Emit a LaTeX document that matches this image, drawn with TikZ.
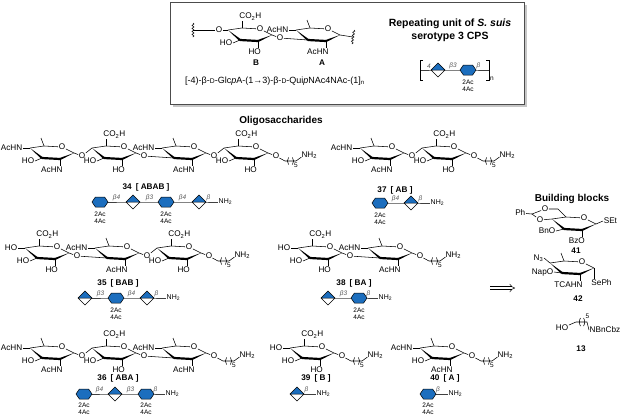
\documentclass[tikz,border=0pt]{standalone}
\usepackage{fontspec}
\setmainfont{Liberation Sans}
\usetikzlibrary{arrows.meta,decorations.pathmorphing}

\definecolor{sblue}{RGB}{28,110,190}
\newcommand\chemfs{\fontsize{8.2}{9}\selectfont}
\newcommand\scD{{\fontsize{6.8}{7}\selectfont D}}

% chair ring, C4 at the pic origin
\newcommand\ringbody{%
  \coordinate (-c4) at (0,0);
  \coordinate (-c5) at (14,-2);
  \node[atom] (-o5) at (32,-1) {O};
  \coordinate (-c1) at (44,5);
  \coordinate (-c2) at (30,11);
  \coordinate (-c3) at (12,10);
  \draw[bond] (-c4) -- (-c5) -- (-o5) -- (-c1);
  \fill (-c4) -- (11.3,10.85) -- (12.7,9.15) -- cycle;
  \draw[line width=2.2pt] (-c3) -- (-c2);
  \fill (-c1) -- (30.4,12) -- (29.6,10) -- cycle;
}
\newcommand\quisubs{%
  \draw[bond] (-c5) -- (11,-10);
  \draw[bond] (-c4) -- (-7,0) node[atom, anchor=east] {AcHN};
  \draw[bond] (-c2) -- (30,18) node[atom, anchor=north east, xshift=3.4pt] {AcHN};
}
\newcommand\glcsubs{%
  \draw[bond] (-c5) -- (14,-9) node[atom, anchor=south west, xshift=-3.4pt] {CO\textsubscript{2}H};
  \draw[bond] (-c3) -- (5,13) node[atom, anchor=east] {HO};
  \draw[bond] (-c2) -- (30,18) node[atom, anchor=north east, xshift=3.6pt] {HO};
}
\newcommand\glyco{%
  \node[atom] (-og) at (52,8) {O};
  \draw[bond] (-c1) -- (-og);
}

\tikzset{
  bond/.style={line width=0.55pt},
  atom/.style={inner sep=0.5pt, font=\chemfs},
  cmpd/.style={inner sep=0.5pt, font=\bfseries\fontsize{8.2}{9}\selectfont},
  ttl/.style={inner sep=0.5pt, font=\bfseries\fontsize{10}{12}\selectfont},
  lnk/.style={above=0.6pt, inner sep=0.3pt, text=black!65, font=\fontsize{6.5}{7}\selectfont\itshape},
  ac/.style={inner sep=0.3pt, font=\fontsize{6.5}{7}\selectfont},
  nh/.style={inner sep=0.5pt, font=\fontsize{7}{8}\selectfont},
  sline/.style={draw=black!75, line width=0.5pt},
  chair/.pic={\ringbody},
  quiring/.pic={\ringbody\quisubs\glyco},
  quibox/.pic={\ringbody\quisubs},
  glcring/.pic={\ringbody\glcsubs\glyco},
  spacer/.pic={
    \draw[bond] (3.4,2) -- (9,5) -- (20,5) -- (25.5,1);
    \draw[bond] (12.6,1.5) .. controls (11,3.5) and (11,6.5) .. (12.6,8.5);
    \draw[bond] (16.4,1.5) .. controls (18,3.5) and (18,6.5) .. (16.4,8.5);
    \node[ac, anchor=north west] at (17.5,7) {5};
    \node[atom, anchor=west] at (24.8,-1) {NH\textsubscript{2}};
  },
  hexa/.pic={\filldraw[fill=sblue, draw=black, line width=0.5pt]
    (-8,0) -- (-4.6,-5) -- (4.6,-5) -- (8,0) -- (4.6,5) -- (-4.6,5) -- cycle;},
  dia/.pic={\fill[white] (-7,0) -- (0,-7) -- (7,0) -- (0,7) -- cycle;
    \fill[sblue] (-7,0) -- (0,-7) -- (7,0) -- cycle;
    \draw[line width=0.5pt] (-7,0) -- (0,-7) -- (7,0) -- (0,7) -- cycle (-7,0) -- (7,0);},
}

\begin{document}
\begin{tikzpicture}[x=1pt, y=-1pt]
\useasboundingbox (0,0) rectangle (626,416);

% repeating unit box
\fill[gray!45] (172.5,4.5) rectangle (526.5,106.5);
\filldraw[fill=white, draw=gray!60!black, line width=0.8pt] (170,2) rectangle (524.5,104.5);
\pic (bx) at (228,30) {glcring};
\pic (ax) at (296,30) {quibox};
\node[atom] (ol) at (219,30) {O};
\coordinate (wl) at (193,30);
\coordinate (wr) at (353,37);
\draw[bond] (wl) -- (ol) -- (bx-c4);
\draw[bond] (bx-og) -- (ax-c3);
\draw[bond] (ax-c1) -- (wr);
\draw[bond, decorate, decoration={snake, amplitude=1pt, segment length=3pt}] (193,23) -- (193,37);
\draw[bond, decorate, decoration={snake, amplitude=1pt, segment length=3pt}] (354,30) -- (352,44);
\node[cmpd] at (256,63) {B};
\node[cmpd] at (322,63) {A};
\node[inner sep=0.5pt, font=\fontsize{9}{10}\selectfont] at (275,81)
  {[-4)-β-\scD-Glc\textit{p}A-(1→3)-β-\scD-Qui\textit{p}NAc4NAc-(1]\textsubscript{n}};
\node[inner sep=0.5pt, font=\bfseries\fontsize{10.5}{13}\selectfont, align=center] at (450,30)
  {Repeating unit of \textit{S. suis}\\serotype 3 CPS};
\coordinate (tk1) at (420,70);
\coordinate (ta) at (438,70);
\coordinate (tb) at (468,70);
\coordinate (tk2) at (489,70);
\draw[sline] (tk1) -- node[lnk]{4} (ta) -- node[lnk]{β3} (tb) -- node[lnk]{β} (tk2);
\draw[line width=0.9pt] (423,60) -- (420,60) -- (420,80) -- (423,80);
\draw[line width=0.9pt] (486,60) -- (489,60) -- (489,80) -- (486,80);
\node[ac, anchor=west] at (489.5,79) {n};
\pic at (ta) {dia};
\pic at (tb) {hexa};
\node[ac] at (468,82) {2Ac};
\node[ac] at (468,89) {4Ac};

\node[ttl] at (281,121) {Oligosaccharides};
\node[ttl] at (572,199) {Building blocks};

% 34 ABAB
\pic (a341) at (30,148) {quiring};
\draw[bond] (a341-c3) -- ++(-7,3) node[atom, anchor=east] {HO};
\pic (b341) at (92,148) {glcring};
\pic (a342) at (162,148) {quiring};
\pic (b342) at (224,148) {glcring};
\draw[bond] (a341-og) -- (b341-c4);
\draw[bond] (b341-og) -- (a342-c3);
\draw[bond] (a342-og) -- (b342-c4);
\pic at (b342-og) {spacer};
\node[cmpd] at (146,187) {34\enspace[ ABAB ]};
\coordinate (s34a) at (100,202);
\coordinate (s34b) at (133,202);
\coordinate (s34c) at (166,202);
\coordinate (s34d) at (199,202);
\node[nh, anchor=west] (s34n) at (218,202) {NH\textsubscript{2}};
\draw[sline] (s34a) -- node[lnk]{β4} (s34b) -- node[lnk]{β3} (s34c) -- node[lnk]{β4} (s34d) -- node[lnk]{β} (s34n);
\pic at (s34a) {hexa};
\pic at (s34b) {dia};
\pic at (s34c) {hexa};
\pic at (s34d) {dia};
\node[ac] at (100,214) {2Ac};
\node[ac] at (100,221) {4Ac};
\node[ac] at (166,214) {2Ac};
\node[ac] at (166,221) {4Ac};

% 37 AB
\pic (a37) at (360,148) {quiring};
\draw[bond] (a37-c3) -- ++(-7,3) node[atom, anchor=east] {HO};
\pic (b37) at (422,148) {glcring};
\draw[bond] (a37-og) -- (b37-c4);
\pic at (b37-og) {spacer};
\node[cmpd] at (395,190) {37\enspace[ AB ]};
\coordinate (s37a) at (380,203);
\coordinate (s37b) at (411,203);
\node[nh, anchor=west] (s37n) at (430,203) {NH\textsubscript{2}};
\draw[sline] (s37a) -- node[lnk]{β4} (s37b) -- node[lnk]{β} (s37n);
\pic at (s37a) {hexa};
\pic at (s37b) {dia};
\node[ac] at (380,215) {2Ac};
\node[ac] at (380,222) {4Ac};

% 35 BAB
\pic (b351) at (25,248) {glcring};
\draw[bond] (b351-c4) -- ++(-7,0) node[atom, anchor=east] {HO};
\pic (a35) at (95,248) {quiring};
\pic (b352) at (157,248) {glcring};
\draw[bond] (b351-og) -- (a35-c3);
\draw[bond] (a35-og) -- (b352-c4);
\pic at (b352-og) {spacer};
\node[cmpd] at (118,283) {35\enspace[ BAB ]};
\coordinate (s35a) at (85,298);
\coordinate (s35b) at (116,298);
\coordinate (s35c) at (147,298);
\node[nh, anchor=west] (s35n) at (166,298) {NH\textsubscript{2}};
\draw[sline] (s35a) -- node[lnk]{β3} (s35b) -- node[lnk]{β4} (s35c) -- node[lnk]{β} (s35n);
\pic at (s35a) {dia};
\pic at (s35b) {hexa};
\pic at (s35c) {dia};
\node[ac] at (116,310) {2Ac};
\node[ac] at (116,317) {4Ac};

% 38 BA
\pic (b38) at (298,248) {glcring};
\draw[bond] (b38-c4) -- ++(-7,0) node[atom, anchor=east] {HO};
\pic (a38) at (368,248) {quiring};
\draw[bond] (b38-og) -- (a38-c3);
\pic at (a38-og) {spacer};
\node[cmpd] at (354,283) {38\enspace[ BA ]};
\coordinate (s38a) at (328,298);
\coordinate (s38b) at (359,298);
\node[nh, anchor=west] (s38n) at (378,298) {NH\textsubscript{2}};
\draw[sline] (s38a) -- node[lnk]{β3} (s38b) -- node[lnk]{β} (s38n);
\pic at (s38a) {dia};
\pic at (s38b) {hexa};
\node[ac] at (359,310) {2Ac};
\node[ac] at (359,317) {4Ac};

% 36 ABA
\pic (a361) at (30,348) {quiring};
\draw[bond] (a361-c3) -- ++(-7,3) node[atom, anchor=east] {HO};
\pic (b36) at (92,348) {glcring};
\pic (a362) at (162,348) {quiring};
\draw[bond] (a361-og) -- (b36-c4);
\draw[bond] (b36-og) -- (a362-c3);
\pic at (a362-og) {spacer};
\node[cmpd] at (118,378) {36\enspace[ ABA ]};
\coordinate (s36a) at (84,394);
\coordinate (s36b) at (115,394);
\coordinate (s36c) at (146,394);
\node[nh, anchor=west] (s36n) at (165,394) {NH\textsubscript{2}};
\draw[sline] (s36a) -- node[lnk]{β4} (s36b) -- node[lnk]{β3} (s36c) -- node[lnk]{β} (s36n);
\pic at (s36a) {hexa};
\pic at (s36b) {dia};
\pic at (s36c) {hexa};
\node[ac] at (84,405) {2Ac};
\node[ac] at (84,412) {4Ac};
\node[ac] at (146,405) {2Ac};
\node[ac] at (146,412) {4Ac};

% 39 B
\pic (b39) at (290,348) {glcring};
\draw[bond] (b39-c4) -- ++(-7,0) node[atom, anchor=east] {HO};
\pic at (b39-og) {spacer};
\node[cmpd] at (316,378) {39\enspace[ B ]};
\coordinate (s39a) at (297,394);
\node[nh, anchor=west] (s39n) at (316,394) {NH\textsubscript{2}};
\draw[sline] (s39a) -- node[lnk]{β} (s39n);
\pic at (s39a) {dia};

% 40 A
\pic (a40) at (420,348) {quiring};
\draw[bond] (a40-c3) -- ++(-7,3) node[atom, anchor=east] {HO};
\pic at (a40-og) {spacer};
\node[cmpd] at (445,378) {40\enspace[ A ]};
\coordinate (s40a) at (428,394);
\node[nh, anchor=west] (s40n) at (448,394) {NH\textsubscript{2}};
\draw[sline] (s40a) -- node[lnk]{β} (s40n);
\pic at (s40a) {hexa};
\node[ac] at (428,405) {2Ac};
\node[ac] at (428,412) {4Ac};

% retrosynthesis arrow
\coordinate (ar1) at (490,288);
\coordinate (ar2) at (515,288);
\draw[double, double distance=2.4pt, line width=0.5pt, -{Implies}] (ar1) -- (ar2);

% 41
\pic (g41) at (552,219) {chair};
\node[atom] (o41a) at (540,220) {O};
\node[atom] (o41b) at (545,209) {O};
\coordinate (ac41) at (532,214);
\coordinate (c641) at (558,209);
\node[atom, anchor=east] (ph41) at (526,213) {Ph};
\draw[bond] (g41-c4) -- (o41a) -- (ac41) -- (o41b) -- (c641) -- (g41-c5);
\draw[bond] (ph41) -- (ac41);
\draw[bond] (g41-c3) -- ++(-8,2) node[atom, anchor=east] {BnO};
\draw[bond] (g41-c2) -- ++(0,7) node[atom, anchor=north east, xshift=3.6pt] {BzO};
\draw[bond] (g41-c1) -- ++(7,-3) node[atom, anchor=west] {SEt};
\node[cmpd] at (576,251) {41};

% 42
\pic (g42) at (550,263) {chair};
\draw[bond] (g42-c5) -- ++(-3,-8);
\draw[bond] (g42-c4) -- ++(-6,-5) node[atom, anchor=east] {N\textsubscript{3}};
\draw[bond] (g42-c3) -- ++(-8,-1) node[atom, anchor=east] {NapO};
\draw[bond] (g42-c2) -- ++(0,7) node[atom, anchor=north east, xshift=3.4pt] {TCAHN};
\draw[bond] (g42-c1) -- ++(0,11) node[atom, anchor=north west, xshift=-3.3pt] {SePh};
\node[cmpd] at (578,299) {42};

% 13
\node[atom] (ho13) at (562,328) {HO};
\coordinate (k131) at (576,322);
\coordinate (k132) at (587,322);
\node[atom, anchor=west] (n13) at (589,330) {NBnCbz};
\draw[bond] (ho13) -- (k131) -- (k132) -- (n13.west);
\draw[bond] (580.5,318) .. controls (579,320) and (579,324) .. (580.5,326);
\draw[bond] (583.5,318) .. controls (585,320) and (585,324) .. (583.5,326);
\node[ac, anchor=south west] at (585,319) {5};
\node[cmpd] at (581,349) {13};
\end{tikzpicture}
\end{document}
